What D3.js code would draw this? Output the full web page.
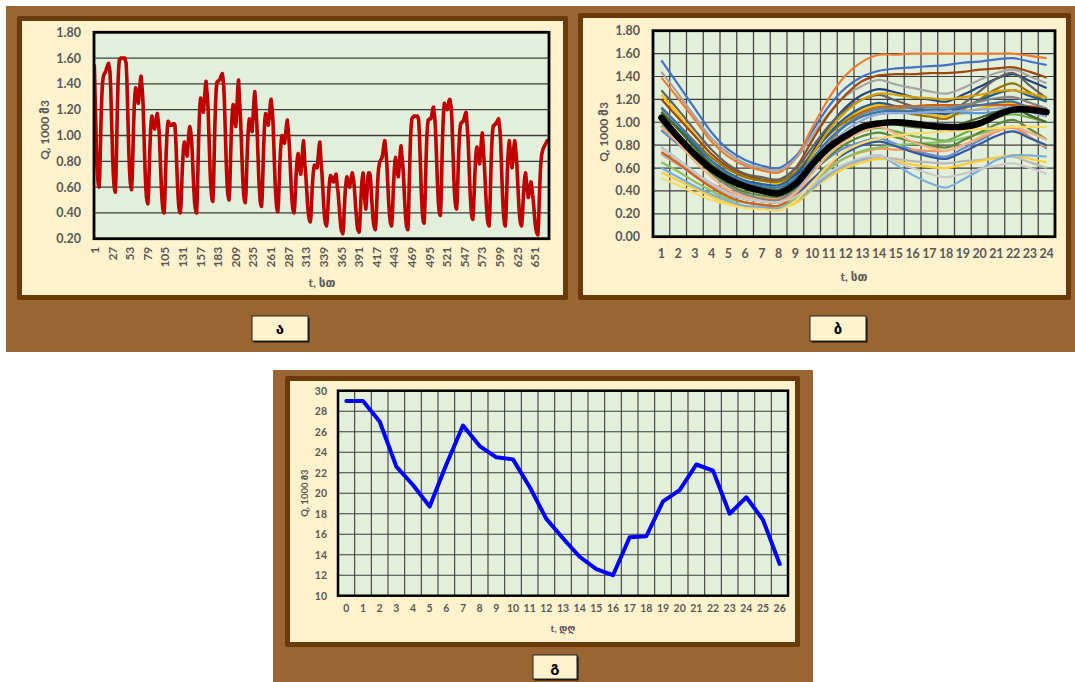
<!DOCTYPE html>
<html>
<head>
<meta charset="utf-8">
<script src="https://cdn.jsdelivr.net/npm/d3@7"></script>
<style>
  html, body { margin: 0; padding: 0; background: #ffffff; }
  svg text { font-family: Lato, "DejaVu Sans", sans-serif; }
</style>
</head>
<body>
<svg id="fig" width="1075" height="682"></svg>
<script>
// Hourly water consumption Q (1000 m3), one array per day, hours 1..24
const day01 = [1.54,1.33,1.12,0.91,0.76,0.67,0.62,0.60,0.70,0.92,1.14,1.30,1.40,1.45,1.47,1.48,1.49,1.50,1.52,1.53,1.55,1.56,1.53,1.50];
const day02 = [1.39,1.21,1.02,0.83,0.70,0.62,0.58,0.56,0.68,0.95,1.21,1.41,1.53,1.59,1.59,1.60,1.60,1.60,1.60,1.60,1.60,1.60,1.58,1.56];
const day03 = [1.44,1.25,1.05,0.86,0.73,0.64,0.60,0.58,0.68,0.88,1.08,1.23,1.32,1.37,1.33,1.30,1.27,1.25,1.30,1.37,1.43,1.46,1.40,1.34];
const day04 = [1.24,1.07,0.89,0.72,0.60,0.52,0.49,0.47,0.55,0.73,0.90,1.03,1.11,1.15,1.12,1.09,1.07,1.05,1.08,1.12,1.15,1.17,1.13,1.08];
const day05 = [1.00,0.87,0.73,0.60,0.50,0.44,0.41,0.40,0.49,0.67,0.85,0.98,1.07,1.11,1.10,1.09,1.08,1.08,1.08,1.08,1.09,1.09,1.09,1.08];
const day06 = [1.00,0.87,0.73,0.60,0.50,0.44,0.41,0.40,0.47,0.61,0.75,0.85,0.92,0.95,0.92,0.88,0.86,0.84,0.90,0.97,1.04,1.07,1.04,1.00];
const day07 = [0.93,0.81,0.69,0.58,0.49,0.44,0.41,0.40,0.51,0.74,0.96,1.13,1.24,1.29,1.26,1.22,1.20,1.18,1.24,1.31,1.38,1.42,1.36,1.30];
const day08 = [1.20,1.04,0.88,0.72,0.61,0.54,0.50,0.49,0.60,0.84,1.07,1.24,1.36,1.41,1.42,1.42,1.43,1.43,1.44,1.46,1.47,1.48,1.44,1.39];
const day09 = [1.28,1.11,0.93,0.76,0.63,0.55,0.52,0.50,0.59,0.78,0.97,1.11,1.20,1.24,1.19,1.14,1.10,1.07,1.16,1.27,1.38,1.43,1.32,1.21];
const day10 = [1.12,0.98,0.83,0.69,0.59,0.52,0.49,0.48,0.56,0.73,0.89,1.01,1.09,1.13,1.10,1.07,1.05,1.03,1.11,1.20,1.29,1.34,1.26,1.18];
const day11 = [1.09,0.95,0.80,0.66,0.56,0.49,0.46,0.45,0.54,0.72,0.90,1.04,1.13,1.17,1.14,1.12,1.09,1.08,1.13,1.19,1.25,1.28,1.23,1.18];
const day12 = [1.09,0.94,0.78,0.63,0.53,0.46,0.42,0.41,0.48,0.63,0.78,0.89,0.96,1.00,0.98,0.96,0.95,0.94,0.99,1.04,1.09,1.12,1.06,1.00];
const day13 = [0.93,0.81,0.69,0.58,0.49,0.44,0.41,0.40,0.46,0.57,0.69,0.78,0.83,0.86,0.81,0.76,0.72,0.70,0.77,0.84,0.92,0.96,0.87,0.77];
const day14 = [0.72,0.63,0.55,0.46,0.40,0.36,0.34,0.33,0.38,0.50,0.61,0.69,0.74,0.77,0.76,0.76,0.75,0.75,0.80,0.86,0.92,0.95,0.87,0.78];
const day15 = [0.72,0.63,0.53,0.44,0.37,0.33,0.31,0.30,0.35,0.45,0.55,0.62,0.67,0.69,0.68,0.66,0.65,0.64,0.66,0.67,0.69,0.70,0.65,0.60];
const day16 = [0.56,0.49,0.42,0.35,0.29,0.26,0.25,0.24,0.29,0.41,0.52,0.60,0.65,0.68,0.66,0.63,0.61,0.60,0.63,0.66,0.69,0.71,0.68,0.65];
const day17 = [0.60,0.52,0.44,0.37,0.31,0.27,0.26,0.25,0.31,0.42,0.54,0.63,0.68,0.71,0.63,0.54,0.47,0.43,0.50,0.58,0.67,0.71,0.71,0.70];
const day18 = [0.65,0.57,0.48,0.40,0.33,0.30,0.28,0.27,0.33,0.46,0.59,0.69,0.75,0.78,0.80,0.81,0.82,0.83,0.86,0.90,0.94,0.96,0.91,0.85];
const day19 = [0.78,0.67,0.56,0.46,0.38,0.33,0.31,0.30,0.36,0.50,0.63,0.73,0.80,0.83,0.79,0.74,0.70,0.68,0.74,0.81,0.88,0.92,0.86,0.80];
const day20 = [0.74,0.64,0.53,0.43,0.35,0.30,0.28,0.27,0.37,0.60,0.81,0.98,1.08,1.13,1.14,1.14,1.15,1.15,1.15,1.15,1.15,1.15,1.14,1.12];
const day21 = [1.02,0.87,0.71,0.55,0.44,0.37,0.33,0.32,0.42,0.62,0.82,0.98,1.07,1.12,1.12,1.13,1.13,1.13,1.15,1.18,1.21,1.22,1.17,1.12];
const day22 = [1.03,0.89,0.74,0.60,0.49,0.43,0.39,0.38,0.48,0.71,0.93,1.09,1.20,1.25,1.24,1.22,1.21,1.20,1.22,1.24,1.27,1.28,1.25,1.22];
const day23 = [1.13,0.98,0.82,0.66,0.55,0.48,0.44,0.43,0.51,0.68,0.85,0.97,1.05,1.09,1.10,1.10,1.11,1.11,1.13,1.15,1.17,1.18,1.12,1.05];
const day24 = [0.97,0.83,0.69,0.56,0.46,0.39,0.36,0.35,0.42,0.56,0.70,0.81,0.88,0.91,0.87,0.83,0.80,0.78,0.84,0.91,0.98,1.02,0.94,0.85];
const day25 = [0.78,0.67,0.56,0.46,0.38,0.33,0.31,0.30,0.39,0.59,0.79,0.93,1.02,1.07,1.08,1.08,1.09,1.09,1.10,1.11,1.12,1.13,1.09,1.05];
const day26 = [0.96,0.82,0.66,0.52,0.41,0.35,0.31,0.30,0.38,0.55,0.72,0.84,0.92,0.96,0.90,0.83,0.78,0.75,0.80,0.87,0.93,0.96,0.91,0.85];
const day27 = [0.78,0.67,0.56,0.46,0.38,0.33,0.31,0.30,0.35,0.46,0.56,0.64,0.69,0.71,0.65,0.60,0.55,0.52,0.55,0.59,0.62,0.64,0.60,0.55];
const day28 = [0.51,0.45,0.38,0.32,0.28,0.25,0.24,0.23,0.31,0.47,0.63,0.75,0.82,0.86,0.88,0.90,0.91,0.92,0.93,0.94,0.95,0.96,0.96,0.96];

const dailyProfiles = [day01, day02, day03, day04, day05, day06, day07, day08, day09, day10,
  day11, day12, day13, day14, day15, day16, day17, day18, day19, day20,
  day21, day22, day23, day24, day25, day26, day27, day28];

// Average daily profile (thick black curve)
const meanProfile = [1.04,0.87,0.72,0.59,0.50,0.44,0.40,0.38,0.46,0.63,0.78,0.88,0.96,0.99,1.00,0.99,0.97,0.96,0.96,0.99,1.06,1.11,1.11,1.09];

// Daily totals Q (1000 m3), days 0..26
const dayNumbers = [0,1,2,3,4,5,6,7,8,9,10,11,12,13,14,15,16,17,18,19,20,21,22,23,24,25,26];
const dailyVolume = [29.0,29.0,27.0,22.6,20.8,18.7,22.8,26.6,24.6,23.5,23.3,20.6,17.5,15.6,13.8,12.6,12.0,15.7,15.8,19.2,20.3,22.8,22.2,18.0,19.6,17.4,13.1];

// Axis ticks
const hourTicks = [1,2,3,4,5,6,7,8,9,10,11,12,13,14,15,16,17,18,19,20,21,22,23,24];
const seriesTicks = [1,27,53,79,105,131,157,183,209,235,261,287,313,339,365,391,417,443,469,495,521,547,573,599,625,651];
const qTicksA = [0.2,0.4,0.6,0.8,1.0,1.2,1.4,1.6,1.8];
const qTicksB = [0,0.2,0.4,0.6,0.8,1.0,1.2,1.4,1.6,1.8];
const qTicksC = [10,12,14,16,18,20,22,24,26,28,30];

const yTitle = "Q, 1000 მ3";
const xTitleHours = "t, სთ";
const xTitleDays = "t, დღ";
const panelLetters = ["ა", "ბ", "გ"];

// Office-style series colours for the daily curves
const seriesColors = ["#4472C4","#ED7D31","#A5A5A5","#FFC000","#5B9BD5","#70AD47","#264478","#9E480E",
  "#636363","#997300","#255E91","#43682B","#698ED0","#F1975A","#B7B7B7","#FFCD33","#7CAFDD","#8CC168",
  "#335AA1","#D26012","#848484","#D5A000","#3E75A6","#5A8A39","#8FAADC","#F4B183","#C9C9C9","#FFD966"];

const BROWN = "#996633", FRAME = "#6B3A0B", CREAM = "#FFF2CC", PLOT = "#E2EFDA";
const LABEL = "#595959", GRID = "#3d3d3d";

const svg = d3.select("#fig");

// brown backgrounds
svg.append("rect").attr("x", 6).attr("y", 6).attr("width", 1069).attr("height", 346).attr("fill", BROWN);
svg.append("rect").attr("x", 273).attr("y", 370).attr("width", 540).attr("height", 312).attr("fill", BROWN);

function frame(x0, y0, x1, y1) {
  svg.append("rect").attr("x", x0).attr("y", y0).attr("width", x1 - x0).attr("height", y1 - y0)
    .attr("rx", 2).attr("fill", FRAME);
  svg.append("rect").attr("x", x0 + 5).attr("y", y0 + 5).attr("width", x1 - x0 - 10).attr("height", y1 - y0 - 10)
    .attr("fill", CREAM);
}

function styleAxis(g, size) {
  g.select(".domain").remove();
  g.selectAll(".tick line").remove();
  g.selectAll("text").attr("fill", LABEL).style("font-size", size + "px").style("font-weight", "bold");
}

function labelBox(x, y, w, h, letter) {
  svg.append("rect").attr("x", x + 1.5).attr("y", y + 1.5).attr("width", w).attr("height", h).attr("fill", "#111");
  svg.append("rect").attr("x", x).attr("y", y).attr("width", w).attr("height", h)
    .attr("fill", CREAM).attr("stroke", "#222").attr("stroke-width", 1);
  svg.append("text").attr("x", x + w / 2).attr("y", y + h / 2 + 5).attr("text-anchor", "middle")
    .style("font-size", "15px").style("font-weight", "bold").attr("fill", "#000").text(letter);
}

// ---------- Panel ა : full hourly series ----------
frame(17, 16, 568, 300);
const hourly = dailyProfiles.flat();
const A = { l: 94, r: 549, t: 32.3, b: 238.7 };
const xA = d3.scaleLinear().domain([0.5, hourly.length + 0.5]).range([A.l, A.r]);
const yA = d3.scaleLinear().domain([0.2, 1.8]).range([A.b, A.t]);

svg.append("rect").attr("x", A.l).attr("y", A.t).attr("width", A.r - A.l).attr("height", A.b - A.t).attr("fill", PLOT);
svg.append("g").selectAll("line").data(qTicksA).join("line")
  .attr("x1", A.l).attr("x2", A.r).attr("y1", d => yA(d)).attr("y2", d => yA(d))
  .attr("stroke", GRID).attr("stroke-width", 1.3);

const clipA = svg.append("clipPath").attr("id", "clipA");
clipA.append("rect").attr("x", A.l).attr("y", A.t).attr("width", A.r - A.l).attr("height", A.b - A.t);
svg.append("path").datum(hourly).attr("clip-path", "url(#clipA)")
  .attr("fill", "none").attr("stroke", "#C00000").attr("stroke-width", 3.6)
  .attr("stroke-linejoin", "round").attr("stroke-linecap", "round")
  .attr("d", d3.line().x((d, i) => xA(i + 1)).y(d => yA(d)));
svg.append("rect").attr("x", A.l).attr("y", A.t).attr("width", A.r - A.l).attr("height", A.b - A.t)
  .attr("fill", "none").attr("stroke", "#000").attr("stroke-width", 2.8);

svg.append("g").attr("transform", `translate(${A.l},0)`)
  .call(d3.axisLeft(yA).tickValues(qTicksA).tickFormat(d3.format(".2f")).tickSize(0).tickPadding(13))
  .call(g => styleAxis(g, 12.5));
svg.append("g").attr("transform", `translate(0,${A.b})`)
  .call(d3.axisBottom(xA).tickValues(seriesTicks).tickSize(0))
  .call(g => styleAxis(g, 12))
  .call(g => g.selectAll("text").attr("transform", "rotate(-90)").attr("x", -8).attr("y", 0)
    .attr("dy", "0.35em").style("text-anchor", "end"));
svg.append("text").attr("x", 322).attr("y", 287).attr("text-anchor", "middle").attr("fill", LABEL)
  .style("font-size", "12px").style("font-weight", "bold").text(xTitleHours);
svg.append("text").attr("transform", "translate(49,130) rotate(-90)").attr("text-anchor", "middle").attr("fill", LABEL)
  .style("font-size", "12px").style("font-weight", "bold").text(yTitle);

// ---------- Panel ბ : daily profiles ----------
frame(578, 13, 1071, 300);
const B = { l: 653, r: 1055, t: 30.7, b: 236.7 };
const xB = d3.scaleBand().domain(hourTicks).range([B.l, B.r]);
const cB = h => xB(h) + xB.bandwidth() / 2;
const yB = d3.scaleLinear().domain([0, 1.8]).range([B.b, B.t]);

svg.append("rect").attr("x", B.l).attr("y", B.t).attr("width", B.r - B.l).attr("height", B.b - B.t).attr("fill", PLOT);
svg.append("g").selectAll("line").data(hourTicks.slice(1)).join("line")
  .attr("x1", d => xB(d)).attr("x2", d => xB(d)).attr("y1", B.t).attr("y2", B.b)
  .attr("stroke", GRID).attr("stroke-width", 1.2);
svg.append("g").selectAll("line").data(qTicksB).join("line")
  .attr("x1", B.l).attr("x2", B.r).attr("y1", d => yB(d)).attr("y2", d => yB(d))
  .attr("stroke", GRID).attr("stroke-width", 1.2);

const lineB = d3.line().x((d, i) => cB(hourTicks[i])).y(d => yB(d)).curve(d3.curveCatmullRom.alpha(0.5));
svg.append("g").selectAll("path").data(dailyProfiles).join("path")
  .attr("fill", "none").attr("stroke", (d, i) => seriesColors[i % seriesColors.length])
  .attr("stroke-width", 2.2).attr("stroke-linejoin", "round").attr("d", lineB);
svg.append("path").datum(meanProfile).attr("fill", "none").attr("stroke", "#000")
  .attr("stroke-width", 6.5).attr("stroke-linecap", "round").attr("stroke-linejoin", "round").attr("d", lineB);
svg.append("rect").attr("x", B.l).attr("y", B.t).attr("width", B.r - B.l).attr("height", B.b - B.t)
  .attr("fill", "none").attr("stroke", "#000").attr("stroke-width", 2.8);

svg.append("g").attr("transform", `translate(${B.l},0)`)
  .call(d3.axisLeft(yB).tickValues(qTicksB).tickFormat(d3.format(".2f")).tickSize(0).tickPadding(13))
  .call(g => styleAxis(g, 12.5));
svg.append("g").attr("transform", `translate(0,${B.b})`)
  .call(d3.axisBottom(xB).tickSize(0).tickPadding(12))
  .call(g => styleAxis(g, 12.5));
svg.append("text").attr("x", 854).attr("y", 281).attr("text-anchor", "middle").attr("fill", LABEL)
  .style("font-size", "12px").style("font-weight", "bold").text(xTitleHours);
svg.append("text").attr("transform", "translate(608,132) rotate(-90)").attr("text-anchor", "middle").attr("fill", LABEL)
  .style("font-size", "12px").style("font-weight", "bold").text(yTitle);

// ---------- Panel გ : daily totals ----------
frame(285, 376, 800, 647);
const C = { l: 338, r: 788, t: 390.7, b: 595.7 };
const xC = d3.scaleBand().domain(dayNumbers).range([C.l, C.r]);
const cC = d => xC(d) + xC.bandwidth() / 2;
const yC = d3.scaleLinear().domain([10, 30]).range([C.b, C.t]);

svg.append("rect").attr("x", C.l).attr("y", C.t).attr("width", C.r - C.l).attr("height", C.b - C.t).attr("fill", PLOT);
svg.append("g").selectAll("line").data(dayNumbers.slice(1)).join("line")
  .attr("x1", d => xC(d)).attr("x2", d => xC(d)).attr("y1", C.t).attr("y2", C.b)
  .attr("stroke", GRID).attr("stroke-width", 1.1);
svg.append("g").selectAll("line").data(qTicksC).join("line")
  .attr("x1", C.l).attr("x2", C.r).attr("y1", d => yC(d)).attr("y2", d => yC(d))
  .attr("stroke", GRID).attr("stroke-width", 1.1);
svg.append("path").datum(dailyVolume).attr("fill", "none").attr("stroke", "#0000FF")
  .attr("stroke-width", 4).attr("stroke-linejoin", "round").attr("stroke-linecap", "round")
  .attr("d", d3.line().x((d, i) => cC(dayNumbers[i])).y(d => yC(d)));
svg.append("rect").attr("x", C.l).attr("y", C.t).attr("width", C.r - C.l).attr("height", C.b - C.t)
  .attr("fill", "none").attr("stroke", "#000").attr("stroke-width", 2.5);

svg.append("g").attr("transform", `translate(${C.l},0)`)
  .call(d3.axisLeft(yC).tickValues(qTicksC).tickSize(0).tickPadding(11))
  .call(g => styleAxis(g, 10.5));
svg.append("g").attr("transform", `translate(0,${C.b})`)
  .call(d3.axisBottom(xC).tickSize(0).tickPadding(9))
  .call(g => styleAxis(g, 10.5));
svg.append("text").attr("x", 563).attr("y", 632).attr("text-anchor", "middle").attr("fill", LABEL)
  .style("font-size", "10px").style("font-weight", "bold").text(xTitleDays);
svg.append("text").attr("transform", "translate(308,493) rotate(-90)").attr("text-anchor", "middle").attr("fill", LABEL)
  .style("font-size", "9.5px").style("font-weight", "bold").text(yTitle);

// panel letters
labelBox(252, 316, 56, 25, panelLetters[0]);
labelBox(810, 316, 56, 25, panelLetters[1]);
labelBox(533, 655, 44, 24, panelLetters[2]);
</script>
</body>
</html>
